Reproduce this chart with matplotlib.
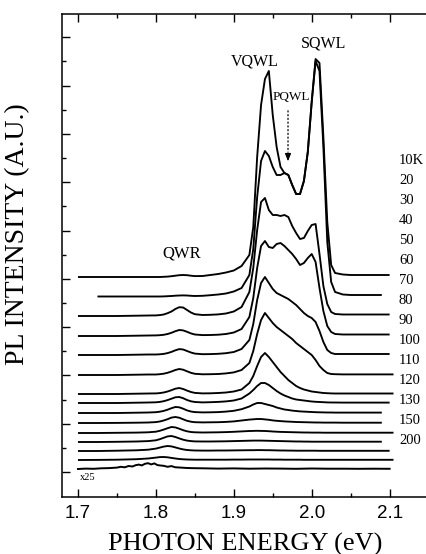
import matplotlib
matplotlib.use("Agg")
import matplotlib.pyplot as plt
import numpy as np

# ---------------- data ----------------
# shared photon-energy grid (eV)
E_GRID = [1.700, 1.725, 1.750, 1.775, 1.790,
          1.800, 1.805, 1.810, 1.815, 1.820, 1.825, 1.830, 1.835, 1.840, 1.845, 1.850,
          1.860, 1.870, 1.880, 1.890, 1.900, 1.910,
          1.920, 1.925, 1.930, 1.935, 1.940, 1.945, 1.950, 1.955, 1.960, 1.965,
          1.970, 1.975, 1.980, 1.985, 1.990, 1.995, 2.000, 2.005, 2.010, 2.015,
          2.020, 2.025, 2.030,
          2.040, 2.050, 2.070, 2.090, 2.100, 2.105, 2.110]

# PL intensity above each trace's own baseline (arbitrary units)
I_10K = [0, 0, 0, 0, 0,
         0, 0, 0.2, 0.4, 0.8, 1.3, 1.8, 2.0, 1.8, 1.3, 0.9,
         1.0, 2.0, 3.0, 4.5, 6.5, 11,
         22, 50, 120, 172, 198, 206, 162, 130, 110, 104, 102, 92, 83, 83, 96, 125, 175, 218, 214, 140, 55, 12, 4,
         2.5, 2, 2, 2, 2, 2, 2]
I_20K = [0.5, 0.5, 0.5, 0.5, 0.5,
         0.5, 0.5, 0.6, 0.8, 1.0, 1.3, 1.5, 1.6, 1.5, 1.2, 1.0,
         1.2, 1.8, 2.5, 3.5, 5.5, 9,
         22, 48, 100, 136, 146, 141, 130, 122, 122, 124, 122, 112, 103, 103, 116, 145, 195, 236, 226, 150, 55, 15, 5,
         2.5, 2, 2, 2, 2, 2, 2]
I_30K = [0, 0, 0, 0.3, 0.5,
         0.6, 0.9, 1.5, 2.8, 4.5, 7.0, 8.8, 8.5, 6.0, 3.5, 1.8,
         1.0, 1.2, 1.6, 2.5, 4.5, 9,
         24, 48, 86, 114, 118, 106, 101, 101, 100, 101, 99, 90, 83, 77, 78, 85, 91, 92, 62, 30, 12, 4, 2,
         1.5, 1.5, 1.5, 1.5, 1.5, 1.5, 1.5]
I_40K = [0, 0, 0, 0.3, 0.5,
         0.6, 0.8, 1.2, 2.0, 3.2, 4.8, 6.0, 5.6, 4.2, 2.6, 1.5,
         0.9, 1.0, 1.3, 2.0, 3.5, 7,
         19, 38, 68, 90, 95, 89, 88, 92, 93, 90, 86, 82, 77, 71, 73, 78, 82, 74, 48, 25, 10, 4, 2,
         1.5, 1.5, 1.5, 1.5, 1.5, 1.5, 1.5]
I_50K = [0, 0, 0, 0.3, 0.5,
         0.5, 0.7, 1.1, 1.9, 3.1, 4.7, 5.9, 5.5, 4.0, 2.5, 1.4,
         0.8, 0.9, 1.2, 1.8, 3.0, 6,
         15, 31, 55, 72, 78, 72, 66, 62, 60, 58, 56, 53, 50, 46, 42, 39, 37, 33, 24, 13, 5, 2, 1,
         1, 1, 1, 1, 1, 1, 1]
I_60K = [0, 0, 0, 0.3, 0.5,
         0.5, 0.8, 1.3, 2.2, 3.5, 5.0, 6.0, 5.3, 3.7, 2.2, 1.2,
         0.7, 0.8, 1.0, 1.6, 2.6, 5,
         12, 24, 41, 55, 62, 57, 52, 48, 45, 42, 39, 36, 32, 29, 26, 23, 20, 15, 9, 5, 2, 1, 0.8,
         0.6, 0.6, 0.6, 0.6, 0.6, 0.6, 0.6]
I_70K = [0, 0, 0, 0.3, 0.5,
         0.6, 0.9, 1.5, 2.5, 3.8, 5.3, 6.0, 5.0, 3.4, 2.0, 1.1,
         0.6, 0.7, 1.0, 1.5, 2.5, 4.5,
         11, 18, 28, 37, 41, 37, 32, 27, 22, 18, 14, 11, 8, 6, 4.5, 3.5, 2.5, 2, 1.5, 1, 0.8, 0.6, 0.5,
         0.5, 0.5, 0.5, 0.5, 0.5, 0.5, 0.5]
I_80K = [0, 0, 0, 0.3, 0.5,
         0.7, 1.1, 1.8, 2.9, 4.3, 5.7, 6.0, 4.8, 3.0, 1.7, 1.0,
         0.6, 0.8, 1.1, 1.6, 2.5, 4.5,
         9.5, 13, 17, 20, 20, 18, 15, 12, 9.5, 7.5, 6, 4.5, 3.5, 3, 2.5, 2, 1.5, 1.2, 1, 0.8, 0.6, 0.5, 0.5,
         0.4, 0.4, 0.4, 0.4, 0.4, 0.4, 0.4]
I_90K = [0, 0, 0, 0.3, 0.5,
         0.8, 1.3, 2.1, 3.3, 4.8, 6.0, 5.7, 4.3, 2.6, 1.5, 0.9,
         0.6, 0.7, 0.9, 1.4, 2.2, 3.8,
         6.5, 8.5, 10, 10, 9, 8, 7, 5.5, 4.5, 3.5, 3, 2.4, 2, 1.6, 1.4, 1.2, 1, 0.8, 0.7, 0.6, 0.5, 0.5, 0.4,
         0.4, 0.4, 0.4, 0.4, 0.4, 0.4, 0.4]
I_100K = [0, 0, 0.1, 0.3, 0.5,
          0.9, 1.5, 2.5, 3.8, 5.4, 6.0, 5.3, 3.7, 2.2, 1.3, 0.8,
          0.6, 0.7, 0.8, 1.1, 1.6, 2.5,
          3.4, 3.7, 4, 4, 3.6, 3.2, 2.6, 2.2, 1.9, 1.6, 1.4, 1.2, 1, 0.9, 0.8, 0.7, 0.6, 0.5, 0.5, 0.4, 0.4, 0.4, 0.4,
          0.3, 0.3, 0.3, 0.3, 0.3, 0.3, 0.3]
I_110K = [0, 0, 0.2, 0.4, 0.7,
          1.3, 2.2, 3.4, 4.8, 6.0, 5.6, 4.3, 2.8, 1.7, 1.0, 0.7,
          0.5, 0.6, 0.7, 0.9, 1.2, 1.6,
          2, 2.1, 2.2, 2.1, 2, 1.8, 1.5, 1.3, 1.1, 1, 0.9, 0.8, 0.7, 0.6, 0.5, 0.5, 0.4, 0.4, 0.4, 0.3, 0.3, 0.3, 0.3,
          0.3, 0.3, 0.3, 0.3, 0.3, 0.3, 0.3]
I_120K = [0, 0, 0.2, 0.5, 0.9,
          1.7, 2.8, 4.2, 5.6, 6.0, 5.0, 3.6, 2.3, 1.4, 0.9, 0.6,
          0.5, 0.5, 0.6, 0.7, 0.9, 1.1,
          1.3, 1.4, 1.4, 1.4, 1.3, 1.2, 1.1, 1, 0.9, 0.8, 0.7, 0.6, 0.5, 0.5, 0.4, 0.4, 0.3, 0.3, 0.3, 0.3, 0.3, 0.3, 0.3,
          0.3, 0.3, 0.3, 0.3, 0.3, 0.3, 0.3]
I_130K = [0, 0, 0.3, 0.7, 1.3,
          2.4, 3.4, 4.4, 5.0, 4.6, 3.6, 2.5, 1.6, 1.0, 0.7, 0.5,
          0.4, 0.4, 0.5, 0.5, 0.6, 0.7,
          0.8, 0.8, 0.9, 0.9, 0.8, 0.8, 0.7, 0.6, 0.5, 0.5, 0.4, 0.4, 0.3, 0.3, 0.3, 0.3, 0.3, 0.3, 0.2, 0.2, 0.2, 0.2, 0.2,
          0.2, 0.2, 0.2, 0.2, 0.2, 0.2, 0.2]
I_150K = [0, 0.1, 0.3, 0.8, 1.5,
          2.4, 2.9, 3.0, 2.7, 2.1, 1.5, 1.0, 0.7, 0.5, 0.4, 0.3,
          0.3, 0.3, 0.3, 0.3, 0.4, 0.4,
          0.5, 0.5, 0.5, 0.5, 0.5, 0.5, 0.4, 0.4, 0.4, 0.3, 0.3, 0.3, 0.3, 0.3, 0.2, 0.2, 0.2, 0.2, 0.2, 0.2, 0.2, 0.2, 0.2,
          0.2, 0.2, 0.2, 0.2, 0.2, 0.2, 0.2]

# 200 K trace, magnified x25 (noisy)
E_X25 = [1.700, 1.710, 1.720, 1.730, 1.740, 1.750, 1.755, 1.760, 1.765, 1.770,
         1.774, 1.778, 1.782, 1.786, 1.790, 1.794, 1.798, 1.802, 1.806, 1.810,
         1.815, 1.820, 1.825, 1.830, 1.840, 1.850, 1.860, 1.880, 1.900, 1.920,
         1.940, 1.960, 1.980, 2.000, 2.020, 2.040, 2.060, 2.080, 2.100]
I_X25 = [0.0, 0.4, 0.2, 0.7, 0.9, 1.4, 2.2, 1.7, 3.0, 2.5,
         3.8, 4.4, 3.6, 5.2, 5.8, 4.6, 5.6, 3.9, 3.5, 3.2,
         2.2, 2.9, 1.7, 1.5, 1.0, 0.8, 0.7, 0.4, 0.6, 0.3,
         0.5, 0.4, 0.2, 0.5, 0.3, 0.3, 0.2, 0.3, 0.2]

SPECTRA = [I_10K, I_20K, I_30K, I_40K, I_50K, I_60K, I_70K, I_80K,
           I_90K, I_100K, I_110K, I_120K, I_130K, I_150K]
# vertical offsets of the stacked traces (same units as intensity)
OFFSETS = [220, 200, 181, 161, 142, 122, 103, 94, 84, 74, 64, 55, 46, 37]
OFFSET_X25 = 28
X_START = [1.70, 1.725, 1.70, 1.70, 1.70, 1.70, 1.70, 1.70, 1.70, 1.70, 1.70, 1.70, 1.70, 1.70]
X_END = [2.10, 2.09, 2.10, 2.10, 2.10, 2.105, 2.105, 2.10, 2.09, 2.09, 2.105, 2.09, 2.10, 2.105]

TEMP_LABELS = ["10K", "20", "30", "40", "50", "60", "70", "80", "90", "100",
               "110", "120", "130", "150", "200"]
X_TICKS = [1.7, 1.8, 1.9, 2.0, 2.1]
X_TICK_LABELS = ["1.7", "1.8", "1.9", "2.0", "2.1"]

# ---------------- drawing ----------------
SERIF = ["Liberation Serif", "DejaVu Serif"]
SANS = ["Liberation Sans", "DejaVu Sans"]

fig = plt.figure(figsize=(4.27, 5.54), dpi=100)
ax = fig.add_axes([62 / 427, 57 / 554, 365 / 427, 483 / 554])

E = np.array(E_GRID)
for I, off, s, e in zip(SPECTRA, OFFSETS, X_START, X_END):
    m = (E >= s - 1e-9) & (E <= e + 1e-9)
    ax.plot(E[m], np.array(I)[m] + off, color="black", lw=1.35,
            solid_joinstyle="round", solid_capstyle="butt")
ax.plot(E_X25, np.array(I_X25) + OFFSET_X25, color="black", lw=1.4,
        solid_joinstyle="miter")

ax.set_xlim(1.6795, 2.148)
ax.set_ylim(0, 483)

ax.set_xticks(X_TICKS)
ax.set_xticklabels(X_TICK_LABELS, fontfamily=SANS, fontsize=13.5)
ax.set_xticks([1.75, 1.85, 1.95, 2.05], minor=True)
yt_major = [25 + 48.3 * k for k in range(10)]
yt_minor = [49.15 + 48.3 * k for k in range(9)]
ax.set_yticks(yt_major)
ax.set_yticks(yt_minor, minor=True)
ax.set_yticklabels([])
ax.tick_params(axis="both", which="both", direction="in", top=True, right=False,
               width=1.0, color="black")
ax.tick_params(axis="both", which="major", length=5.5)
ax.tick_params(axis="both", which="minor", length=3)
ax.tick_params(axis="x", which="major", pad=6)
ax.spines["right"].set_visible(False)
for sp in ("left", "bottom", "top"):
    ax.spines[sp].set_linewidth(1.1)

# axis titles
fig.text(245 / 427, 1 - 544 / 554, "PHOTON ENERGY (eV)", fontfamily=SERIF,
         fontsize=19, ha="center", va="center")
fig.text(18 / 427, 1 - 234 / 554, "PL INTENSITY (A.U.)", fontfamily=SERIF,
         fontsize=20, ha="center", va="center", rotation=90)

# peak annotations
ax.text(1.9272, 436, "VQWL", fontfamily=SERIF, fontsize=11.5, ha="center", va="center")
ax.text(2.0158, 454, "SQWL", fontfamily=SERIF, fontsize=11.5, ha="center", va="center")
ax.text(1.9734, 400, "PQWL", fontfamily=SERIF, fontsize=9.5, ha="center", va="center")
ax.text(1.8335, 244, "QWR", fontfamily=SERIF, fontsize=12, ha="center", va="center")
ax.text(1.7128, 19, "x25", fontfamily=SERIF, fontsize=7.5, ha="center", va="center")

# dotted arrow marking PQWL
ax.annotate("", xy=(1.9696, 342), xytext=(1.9696, 389),
            arrowprops=dict(arrowstyle="-", linestyle=(0, (1, 2)), lw=0.9, color="black"))
ax.annotate("", xy=(1.9696, 333), xytext=(1.9696, 343),
            arrowprops=dict(arrowstyle="-|>,head_length=0.45,head_width=0.18",
                            lw=0.8, color="black"))

# temperature labels
for k, lab in enumerate(TEMP_LABELS):
    ax.text(2.112, 336 - 19.93 * k, lab, fontfamily=SERIF, fontsize=10.5,
            ha="left", va="center", clip_on=False)

fig.savefig("out.png", dpi=100)
